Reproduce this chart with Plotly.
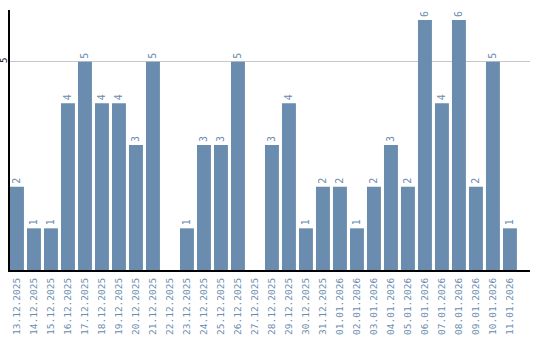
import plotly.graph_objects as go

dates = ["13.12.2025", "14.12.2025", "15.12.2025", "16.12.2025", "17.12.2025",
         "18.12.2025", "19.12.2025", "20.12.2025", "21.12.2025", "22.12.2025",
         "23.12.2025", "24.12.2025", "25.12.2025", "26.12.2025", "27.12.2025",
         "28.12.2025", "29.12.2025", "30.12.2025", "31.12.2025", "01.01.2026",
         "02.01.2026", "03.01.2026", "04.01.2026", "05.01.2026", "06.01.2026",
         "07.01.2026", "08.01.2026", "09.01.2026", "10.01.2026", "11.01.2026"]
counts = [2, 1, 1, 4, 5, 4, 4, 3, 5, 0,
          1, 3, 3, 5, 0, 3, 4, 1, 2, 2,
          1, 2, 3, 2, 6, 4, 6, 2, 5, 1]
y_ticks = [5]

bar_color = "#6a8cae"
label_color = "#6a8cae"
font_family = "DejaVu Sans Mono"

fig = go.Figure(go.Bar(
    x=list(range(len(dates))),
    y=counts,
    marker=dict(color=bar_color, line=dict(width=0)),
    text=[str(v) if v else "" for v in counts],
    textposition="outside",
    textangle=-90,
    textfont=dict(family=font_family, size=10, color=label_color),
    cliponaxis=False,
))

fig.update_layout(
    width=540, height=340,
    margin=dict(l=10, r=10, t=10, b=70),
    paper_bgcolor="white", plot_bgcolor="white",
    bargap=0.18,
    showlegend=False,
    xaxis=dict(
        range=[-0.41, 30.18],
        tickmode="array",
        tickvals=list(range(len(dates))),
        ticktext=dates,
        tickangle=-90,
        tickfont=dict(family=font_family, size=9.5, color=label_color),
        showgrid=False, zeroline=False,
        showline=True, linecolor="black", linewidth=2,
        ticks="", ticklen=0,
        ticklabelstandoff=2,
        automargin=False,
    ),
    yaxis=dict(
        range=[0, 6.24],
        tickmode="array",
        tickvals=y_ticks,
        tickangle=-90,
        tickfont=dict(family=font_family, size=9, color="black"),
        showgrid=True, gridcolor="#c8c8c8", gridwidth=1,
        zeroline=False,
        showline=True, linecolor="black", linewidth=2,
        ticks="", ticklen=0,
        ticklabelstandoff=-3,
        automargin=False,
    ),
)

fig.write_html("out.html")
